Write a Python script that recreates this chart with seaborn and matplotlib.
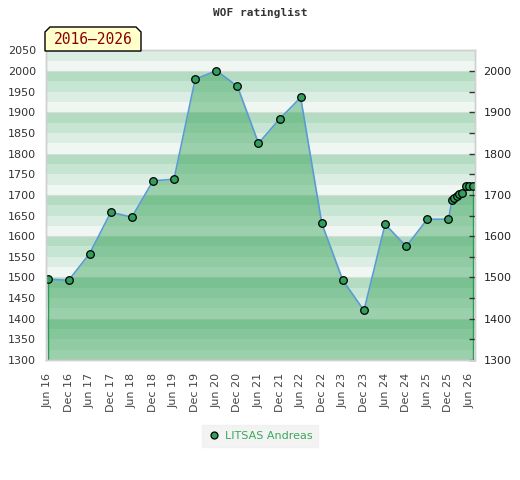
import pandas as pd
import numpy as np
import matplotlib
matplotlib.use("Agg")
import matplotlib.pyplot as plt
import matplotlib.dates as mdates
from matplotlib.lines import Line2D
from matplotlib.patches import Polygon
import seaborn as sns

# data
dates = [
    "2016-06-01", "2016-12-01", "2017-06-01", "2017-12-01", "2018-06-01",
    "2018-12-01", "2019-06-01", "2019-12-01", "2020-06-01", "2020-12-01",
    "2021-06-01", "2021-12-01", "2022-06-01", "2022-12-01", "2023-06-01",
    "2023-12-01", "2024-06-01", "2024-12-01", "2025-06-01", "2025-12-01",
    "2026-01-01", "2026-01-22", "2026-02-15", "2026-03-05", "2026-04-01",
    "2026-05-05", "2026-06-01", "2026-07-03",
]
ratings = [
    1496, 1493, 1558, 1658, 1646,
    1734, 1738, 1980, 2001, 1963,
    1825, 1884, 1936, 1631, 1493,
    1420, 1629, 1575, 1641, 1641,
    1687, 1692, 1697, 1701, 1705,
    1721, 1721, 1721,
]
player = "LITSAS Andreas"
title = "WOF ratinglist"
period = "2016\u20132026"

left_ticks = list(range(1300, 2051, 50))
right_ticks = list(range(1300, 2001, 100))
tick_dates = pd.date_range("2016-06-01", "2026-06-01", freq="6MS")
tick_dates = [d for d in tick_dates if d.month in (6, 12)]

df = pd.DataFrame({"date": pd.to_datetime(dates), "rating": ratings})

sns.set_style("white")
plt.rcParams["font.family"] = ["DejaVu Sans"]

fig = plt.figure(figsize=(5.2, 4.8), dpi=100)
ax = fig.add_axes([46 / 520, 1 - 360 / 480, 429 / 520, 310 / 480])

ymin, ymax = 1300, 2051

# striped background, 4 bands per 100 points
band_cols = ["#f0f7f3", "#dcede3", "#c7e5d3", "#b3dcc3"]
for lo in range(1300, 2075, 25):
    ax.axhspan(lo, lo + 25, color=band_cols[(lo // 25) % 4], lw=0, zorder=0)
for h in range(1300, 2100, 100):
    ax.axhline(h, color="#d6dcd8", lw=0.8, zorder=0.5)

# area under the line
ax.fill_between(df["date"], df["rating"], ymin, color="#35a257",
                alpha=0.45, lw=0, zorder=1)
ax.vlines([df["date"].iloc[0], df["date"].iloc[-1]], ymin,
          [df["rating"].iloc[0], df["rating"].iloc[-1]],
          color="#2e9a55", lw=1, zorder=2)

sns.lineplot(data=df, x="date", y="rating", ax=ax, sort=False,
             estimator=None, color="#5b9bd5", lw=1.2, zorder=3)
sns.scatterplot(data=df, x="date", y="rating", ax=ax, s=30,
                color="#32a05c", edgecolor="black", linewidth=0.9, zorder=4)

ax.set_ylim(ymin, ymax)
ax.set_xlim(pd.Timestamp("2016-05-19"), pd.Timestamp("2026-07-19"))
ax.set_yticks(left_ticks)
ax.set_yticklabels([str(v) for v in left_ticks], fontsize=8, color="#333333")
ax.set_xticks(tick_dates)
ax.set_xticklabels([d.strftime("%b %y") for d in tick_dates], rotation=90,
                   fontsize=8, color="#444444")
ax.tick_params(axis="both", length=0)
ax.tick_params(axis="y", pad=7)
ax.tick_params(axis="x", pad=9)
ax.set_xlabel("")
ax.set_ylabel("")
for sp in ax.spines.values():
    sp.set_color("#d0d0d0")
    sp.set_linewidth(1)

# right axis
ax2 = ax.twinx()
ax2.set_ylim(ymin, ymax)
ax2.set_yticks(right_ticks)
ax2.set_yticks(list(range(1350, 2001, 100)), minor=True)
ax2.set_yticklabels([str(v) for v in right_ticks], fontsize=8, color="#222222")
ax2.tick_params(axis="y", which="both", direction="in", length=4,
                width=1, color="#333333", pad=6)
for sp in ax2.spines.values():
    sp.set_color("#d0d0d0")
    sp.set_linewidth(1)

# title
fig.text(260 / 520, 1 - 13 / 480, title, ha="center", va="center",
         family="DejaVu Sans Mono", fontweight="bold", fontsize=8,
         color="#333333")

# period label box with cut corners
pts = [(45, 51), (45, 32), (50, 27), (136, 27), (141, 32), (141, 51)]
poly = Polygon([(x / 520, 1 - y / 480) for x, y in pts], closed=True,
               transform=fig.transFigure, facecolor="#ffffcc",
               edgecolor="black", lw=1, zorder=10)
fig.patches.append(poly)
fig.text(93 / 520, 1 - 40 / 480, period, ha="center", va="center",
         family="DejaVu Sans Mono", fontsize=10.5, color="#8b0000", zorder=11)

# legend
handle = Line2D([], [], ls="none", marker="o", markersize=5,
                markerfacecolor="#32a05c", markeredgecolor="black",
                markeredgewidth=0.9)
leg = fig.legend([handle], [player], loc="center",
                 bbox_to_anchor=(260 / 520, 1 - 436 / 480), frameon=True,
                 fancybox=False, facecolor="#f0f0f0", edgecolor="#f0f0f0",
                 fontsize=8, labelcolor="#3aa85a", handletextpad=0.4,
                 handlelength=1.2, borderpad=0.5)

plt.savefig("out.png", dpi=100)
